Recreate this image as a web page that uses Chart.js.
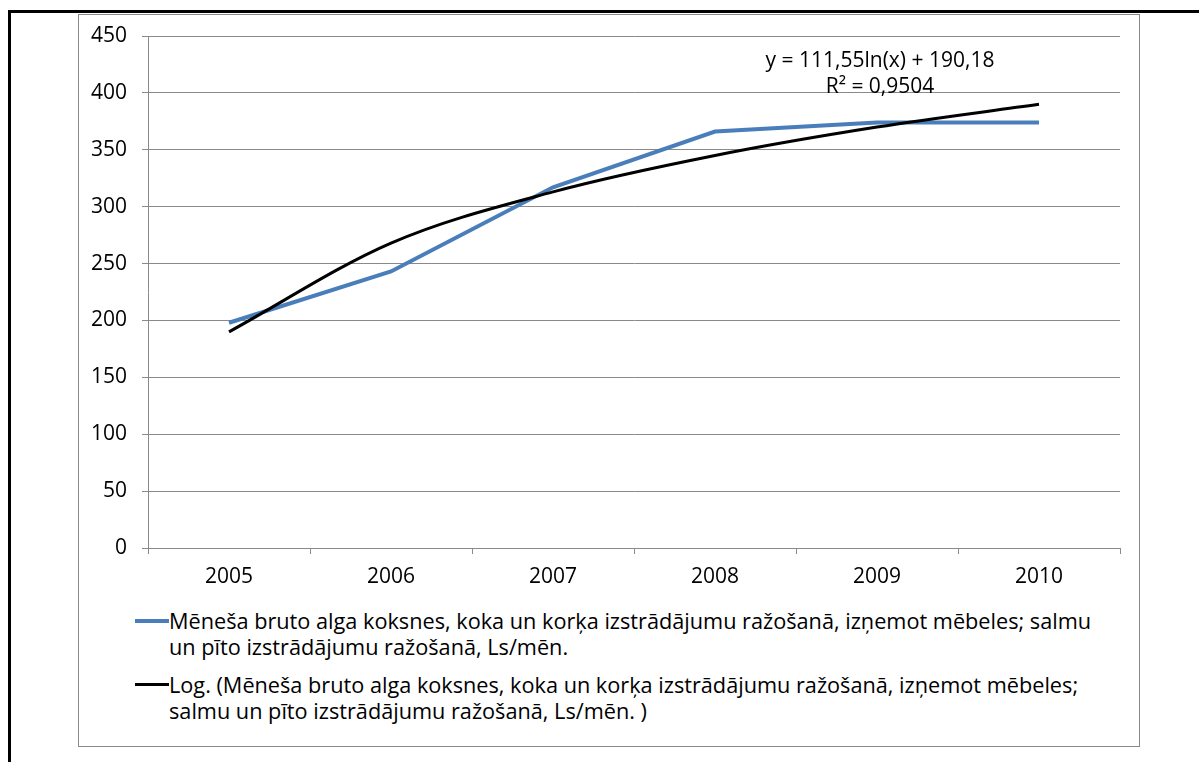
<!DOCTYPE html>
<html lang="lv">
<head>
<meta charset="UTF-8">
<title>Mēneša bruto alga</title>
<script src="https://cdn.jsdelivr.net/npm/chart.js"></script>
<style>
  html, body { margin: 0; overflow: hidden; }
  body { background: #fff; font-family: "Open Sans", sans-serif; color: #000; }
  .frame { position: absolute; left: 8px; top: 10px; width: 1188px; height: 749px;
           border-top: 3px solid #000; border-left: 3px solid #000; }
  .box { position: absolute; left: 78px; top: 14px; width: 1060px; height: 731px;
         border: 1px solid #8a8a8a; background: #fff; }
  .chart-wrap { position: absolute; left: 79px; top: 15px; width: 1059px; height: 575px; }
  .eq { position: absolute; left: 730px; width: 300px; text-align: center; font-size: 21px;
        line-height: 26px; white-space: nowrap; }
  .legend { position: absolute; left: 135px; top: 608px; font-size: 21.7px; }
  .item { display: flex; align-items: flex-start; }
  .item + .item { margin-top: 12px; }
  .swatch { width: 34px; margin-top: 11px; }
  .txt { line-height: 26px; white-space: nowrap; }
</style>
</head>
<body>
<div class="frame"></div>
<div class="box"></div>
<div class="chart-wrap"><canvas id="lineChart"></canvas></div>
<div class="eq" style="top:46px">y = 111,55ln(x) + 190,18</div>
<div class="eq" style="top:72px">R² = 0,9504</div>
<div class="legend" id="legend"></div>

<script>
  // dati
  const years = ['2005', '2006', '2007', '2008', '2009', '2010'];
  const wage = [198, 243, 317, 366, 374, 374];
  const trend = [190, 268, 313, 345, 370, 390];
  const yMin = 0, yMax = 450, yStep = 50;

  // leģendas teksts pa rindām
  const wageLabel = ['Mēneša bruto alga koksnes, koka un korķa izstrādājumu ražošanā, izņemot mēbeles; salmu',
                     'un pīto izstrādājumu ražošanā, Ls/mēn.'];
  const trendLabel = ['Log. (Mēneša bruto alga koksnes, koka un korķa izstrādājumu ražošanā, izņemot mēbeles;',
                      'salmu un pīto izstrādājumu ražošanā, Ls/mēn. )'];

  const blue = '#4a7ebb';
  const gridColor = '#8a8a8a';
  const font = { family: '"Open Sans", sans-serif', size: 21 };

  var ctx = document.getElementById('lineChart').getContext('2d');
  var chart = new Chart(ctx, {
    type: 'line',
    data: {
      labels: years,
      datasets: [{
        label: wageLabel.join(' '),
        data: wage,
        borderColor: blue,
        borderWidth: 4,
        pointRadius: 0,
        tension: 0,
        order: 1
      }, {
        label: trendLabel.join(' '),
        data: trend,
        borderColor: '#000',
        borderWidth: 3,
        pointRadius: 0,
        cubicInterpolationMode: 'monotone',
        order: 0
      }]
    },
    options: {
      responsive: true,
      maintainAspectRatio: false,
      animation: false,
      layout: { padding: { top: 21, right: 18, left: 0, bottom: 0 } },
      plugins: { legend: { display: false }, tooltip: { enabled: false } },
      scales: {
        x: {
          offset: true,
          grid: { offset: true, drawOnChartArea: false, drawTicks: true, tickLength: 6, color: gridColor },
          border: { display: true, color: gridColor },
          ticks: { font: font, color: '#000', padding: 10, maxRotation: 0 },
          afterFit: function (scale) { scale.height = 42; }
        },
        y: {
          min: yMin,
          max: yMax,
          grid: { color: gridColor, tickLength: 6 },
          border: { display: true, color: gridColor },
          ticks: { stepSize: yStep, font: font, color: '#000', padding: 15 },
          afterFit: function (scale) {
            scale.width = 69;
            scale.paddingTop = 0;
            scale.paddingBottom = 0;
          }
        }
      }
    }
  });

  // leģenda zem grafika
  var legend = document.getElementById('legend');
  [[wageLabel, blue, 4], [trendLabel, '#000', 3]].forEach(function (e) {
    var item = document.createElement('div');
    item.className = 'item';
    item.innerHTML = '<div class="swatch" style="height:' + e[2] + 'px;background:' + e[1] + '"></div>' +
      '<div class="txt">' + e[0].join('<br>') + '</div>';
    legend.appendChild(item);
  });
</script>
</body>
</html>
